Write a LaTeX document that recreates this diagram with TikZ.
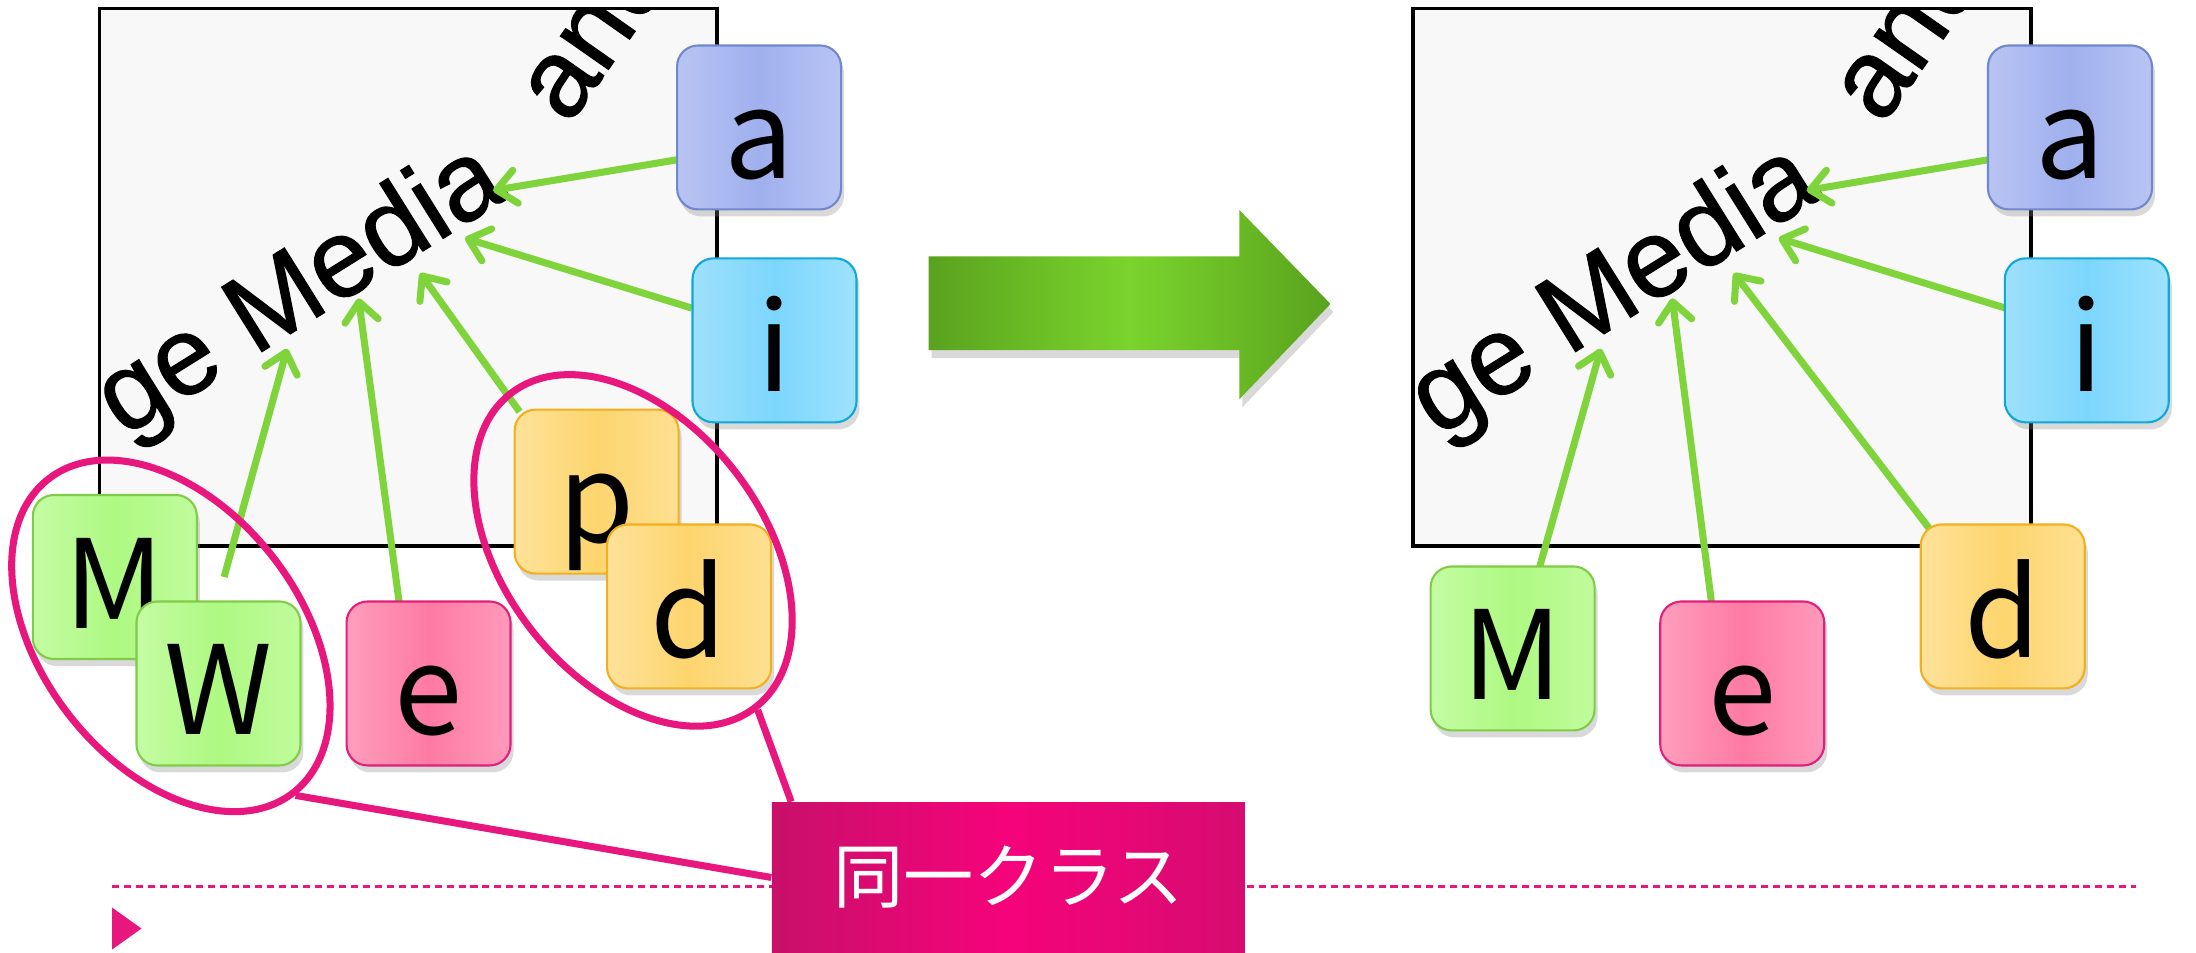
\documentclass[tikz,border=0pt]{standalone}
\usepackage{fontspec}
\setmainfont{Liberation Sans}
\newfontfamily\wordfont[BoldFont={Liberation Sans}, BoldFeatures={FakeBold=1.0}]{Liberation Sans}
\newfontfamily\jpfont{Noto Sans CJK JP}
\usetikzlibrary{arrows.meta, shapes.geometric, shadows, backgrounds}

\definecolor{linkgreen}{HTML}{7ED43A}
\definecolor{ringpink}{HTML}{E8177D}
\definecolor{panelgray}{HTML}{F8F8F8}
\definecolor{arrowdark}{HTML}{5AA21E}
\definecolor{arrowlight}{HTML}{7AD42C}
\definecolor{tagbright}{HTML}{F5037A}
\definecolor{tagleft}{HTML}{C8106A}
\definecolor{tagright}{HTML}{D60C70}

\begin{document}
\begin{tikzpicture}[
	x=0.014cm, y=-0.014cm,
	tile/.style={rectangle, rounded corners=2.1mm, draw, line width=0.6pt, inner sep=0pt,
		minimum width=1.64cm, text height=1.33cm, text depth=0.31cm,
		font=\jpfont\fontsize{35}{35}\selectfont,
		drop shadow={opacity=0.3, shadow xshift=0.3mm, shadow yshift=-0.7mm}},
	tileblue/.style={tile, draw={rgb,255:red,112;green,136;blue,204},
		left color={rgb,255:red,184;green,196;blue,242}, right color={rgb,255:red,184;green,196;blue,244},
		middle color={rgb,255:red,160;green,176;blue,238}},
	tilecyan/.style={tile, draw={rgb,255:red,16;green,168;blue,216},
		left color={rgb,255:red,158;green,224;blue,252}, right color={rgb,255:red,158;green,226;blue,253},
		middle color={rgb,255:red,124;green,214;blue,252}},
	tileyellow/.style={tile, draw={rgb,255:red,242;green,176;blue,30},
		left color={rgb,255:red,254;green,226;blue,154}, right color={rgb,255:red,254;green,224;blue,146},
		middle color={rgb,255:red,253;green,213;blue,110}},
	tilegreen/.style={tile, draw={rgb,255:red,128;green,204;blue,72},
		left color={rgb,255:red,196;green,252;blue,164}, right color={rgb,255:red,192;green,251;blue,156},
		middle color={rgb,255:red,174;green,249;blue,130}},
	tilepink/.style={tile, draw={rgb,255:red,224;green,32;blue,122},
		left color={rgb,255:red,254;green,158;blue,188}, right color={rgb,255:red,254;green,154;blue,187},
		middle color={rgb,255:red,254;green,122;blue,164}},
	word/.style={anchor=base west, inner sep=0pt, font=\wordfont\bfseries\fontsize{31.5}{31.5}\selectfont},
	link/.style={linkgreen, line width=2pt, -{Straight Barb[length=5.5pt, width=9.5pt, round]}},
	ring/.style={ellipse, draw=ringpink, line width=2pt, inner sep=0pt, rotate=-52,
		minimum width=3.98cm, minimum height=2.58cm},
	classtag/.style={rectangle, inner sep=0pt, minimum width=4.73cm, minimum height=1.5cm,
		left color=tagleft, right color=tagright, middle color=tagbright, text=white,
		font=\jpfont\fontsize{20}{20}\selectfont},
]
	\useasboundingbox (0,0) rectangle (1568,680);

	% Two panels: grey picture with the rotated words, clipped to its frame
	\foreach \dx in {0, 938} {
		\fill[panelgray] (71+\dx,6) rectangle (512+\dx,390);
		\begin{scope}
			\clip (71+\dx,6) rectangle (512+\dx,390);
			\node[word, rotate=32] at (88+\dx,313) {ge Media};
			\node[word, rotate=55] at (405.8+\dx,90.5) {and};
		\end{scope}
		\draw[line width=1pt] (71+\dx,6) rectangle (512+\dx,390);
	}

	% Arrow tips on the words
	\foreach \p/\dx in {L/0, R/938} {
		\coordinate (\p a) at (352+\dx,136);
		\coordinate (\p i) at (332+\dx,170);
		\coordinate (\p d) at (300+\dx,195);
		\coordinate (\p e) at (256+\dx,213);
		\coordinate (\p m) at (205+\dx,249);
	}

	% Left panel connectors
	\draw[link] (484,114) coordinate (sa) -- (La);
	\draw[link] (494,220) coordinate (si) -- (Li);
	\draw[link] (371,294) coordinate (sp) -- (Ld);
	\draw[link] (285,430) coordinate (se) -- (Le);
	\draw[link] (160,412) coordinate (sw) -- (Lm);

	% Right panel connectors
	\draw[link] (1420,114) coordinate (ra) -- (Ra);
	\draw[link] (1432,220) coordinate (ri) -- (Ri);
	\draw[link] (1378,378) coordinate (rd) -- (Rd);
	\draw[link] (1222,430) coordinate (re) -- (Re);
	\draw[link] (1099,406) coordinate (rm) -- (Rm);

	% Letter tiles, left
	\node[tileblue] (a) at (542,91) {a};
	\node[tilecyan] (i) at (553,243) {i};
	\node[tileyellow] (p) at (426,351) {p};
	\node[tileyellow] (d) at (492,433) {d};
	\node[tilegreen] (M) at (82,412) {M};
	\node[tilegreen] (W) at (156,488) {W};
	\node[tilepink] (e) at (306,488) {e};

	% Letter tiles, right
	\node[tileblue] (a2) at (1478,91) {a};
	\node[tilecyan] (i2) at (1490,243) {i};
	\node[tileyellow] (d2) at (1430,433) {d};
	\node[tilegreen] (M2) at (1080,463) {M};
	\node[tilepink] (e2) at (1244,488) {e};

	% Same-class groups
	\node[ring] (g1) at (122,454) {};
	\node[ring] (g2) at (452,393) {};

	% Footer rule and bullet
	\draw[ringpink, line width=0.6pt, dash pattern=on 2pt off 1.4pt] (80,633) -- (1525,633);
	\fill[ringpink] (80,648) -- (101,663) -- (80,678) -- cycle;

	% Big arrow between the panels
	\shade[left color=arrowdark, right color=arrowdark, middle color=arrowlight,
		drop shadow={opacity=0.3, shadow xshift=0.3mm, shadow yshift=-0.8mm}]
		(663,183) -- (885,183) -- (885,150) -- (950,217) -- (885,285) -- (885,250) -- (663,250) -- cycle;

	% Label with callout lines
	\node[classtag] (cls) at (720,626.5) {同一クラス};
	\begin{pgfonlayer}{background}
		\draw[ringpink, line width=2pt] (g1.east) -- (cls.west);
		\draw[ringpink, line width=2pt] (g2.east) -- ([xshift=0.2cm]cls.north west);
	\end{pgfonlayer}
\end{tikzpicture}
\end{document}
